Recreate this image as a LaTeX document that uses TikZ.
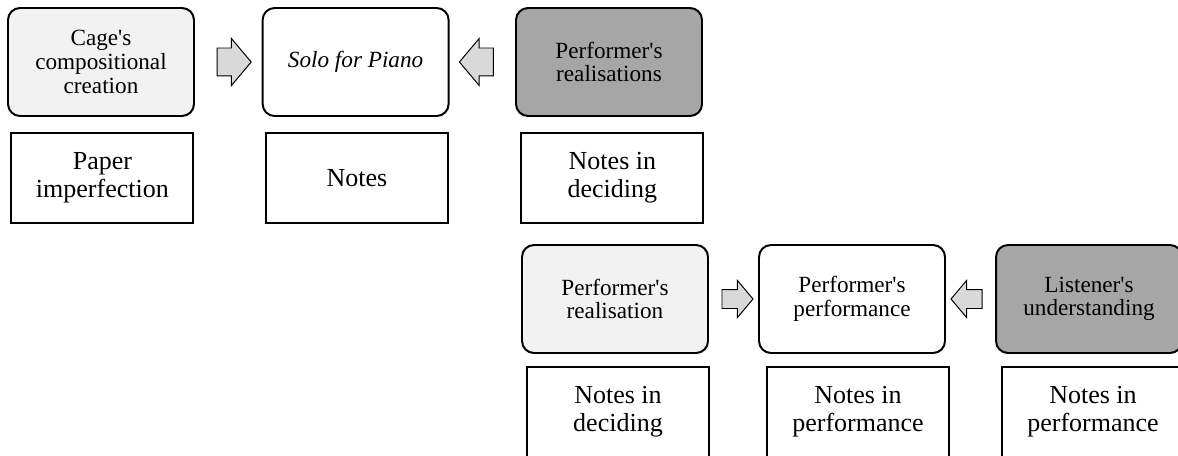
\documentclass[tikz,border=0pt]{standalone}
\usepackage{fontspec}
\setmainfont{Liberation Serif}
\usetikzlibrary{shapes.arrows,calc}

\begin{document}
\begin{tikzpicture}[
    stage/.style={draw, rounded corners=0.3cm, line width=1.4pt,
                  minimum height=2.7cm, minimum width=4.65cm, align=center,
                  inner sep=3pt, font=\fontsize{16.5}{16.8}\selectfont},
    stageL/.style={stage, fill=gray!10},
    stageD/.style={stage, fill=gray!70},
    note/.style={draw, rectangle, line width=1.4pt, minimum height=2.25cm,
                 minimum width=4.55cm, align=center, inner sep=3pt,
                 font=\fontsize{18.5}{20}\selectfont},
    blockR/.style={single arrow, draw, fill=gray!30, line width=0.7pt,
                   inner xsep=0pt, inner ysep=0.3375cm, minimum height=0.85cm,
                   single arrow head extend=0.2375cm, single arrow tip angle=100},
    blockL/.style={blockR, shape border rotate=180},
    smallR/.style={blockR, inner ysep=0.225cm, minimum height=0.775cm,
                   single arrow head extend=0.225cm},
    smallL/.style={smallR, shape border rotate=180},
  ]
  \path[use as bounding box, clip] (0,0) rectangle (29.45,-11.375);

  %% ================================================================
  %% Upper row: composition
  %% ================================================================
  \node[stageL] (cage)  at (2.525, -1.55)  {Cage\textquotesingle s\\compositional\\creation};
  \node[stage]  (solo)  at (8.89,  -1.55)  {\textit{Solo for Piano}};
  \node[stageD] (real)  at (15.225,-1.55)  {Performer\textquotesingle s\\realisations};

  \node[note]   (paper) at (2.56,  -4.45)  {Paper\\imperfection};
  \node[note]   (notes) at (8.925, -4.45)  {Notes};
  \node[note]   (decA)  at (15.31, -4.45)  {Notes in\\deciding};

  \node[blockR] (arrA) at ($(cage.east)!0.5!(solo.west)$) {};
  \node[blockL] (arrB) at ($(solo.east)!0.5!(real.west)$) {};

  %% ================================================================
  %% Lower row: performance
  %% ================================================================
  \node[stageL] (realB) at (15.375,-7.475) {Performer\textquotesingle s\\realisation};
  \node[stage]  (perf)  at (21.3,  -7.475) {Performer\textquotesingle s\\performance};
  \node[stageD] (list)  at (27.225,-7.475) {Listener\textquotesingle s\\understanding};

  \node[note]   (decB)  at (15.45, -10.3)  {Notes in\\deciding};
  \node[note]   (npA)   at (21.45, -10.3)  {Notes in\\performance};
  \node[note]   (npB)   at (27.325,-10.3)  {Notes in\\performance};

  \node[smallR] (arrC) at ($(realB.east)!0.5!(perf.west)$) {};
  \node[smallL] (arrD) at ($(perf.east)!0.5!(list.west)$) {};

  \end{tikzpicture}
\end{document}
